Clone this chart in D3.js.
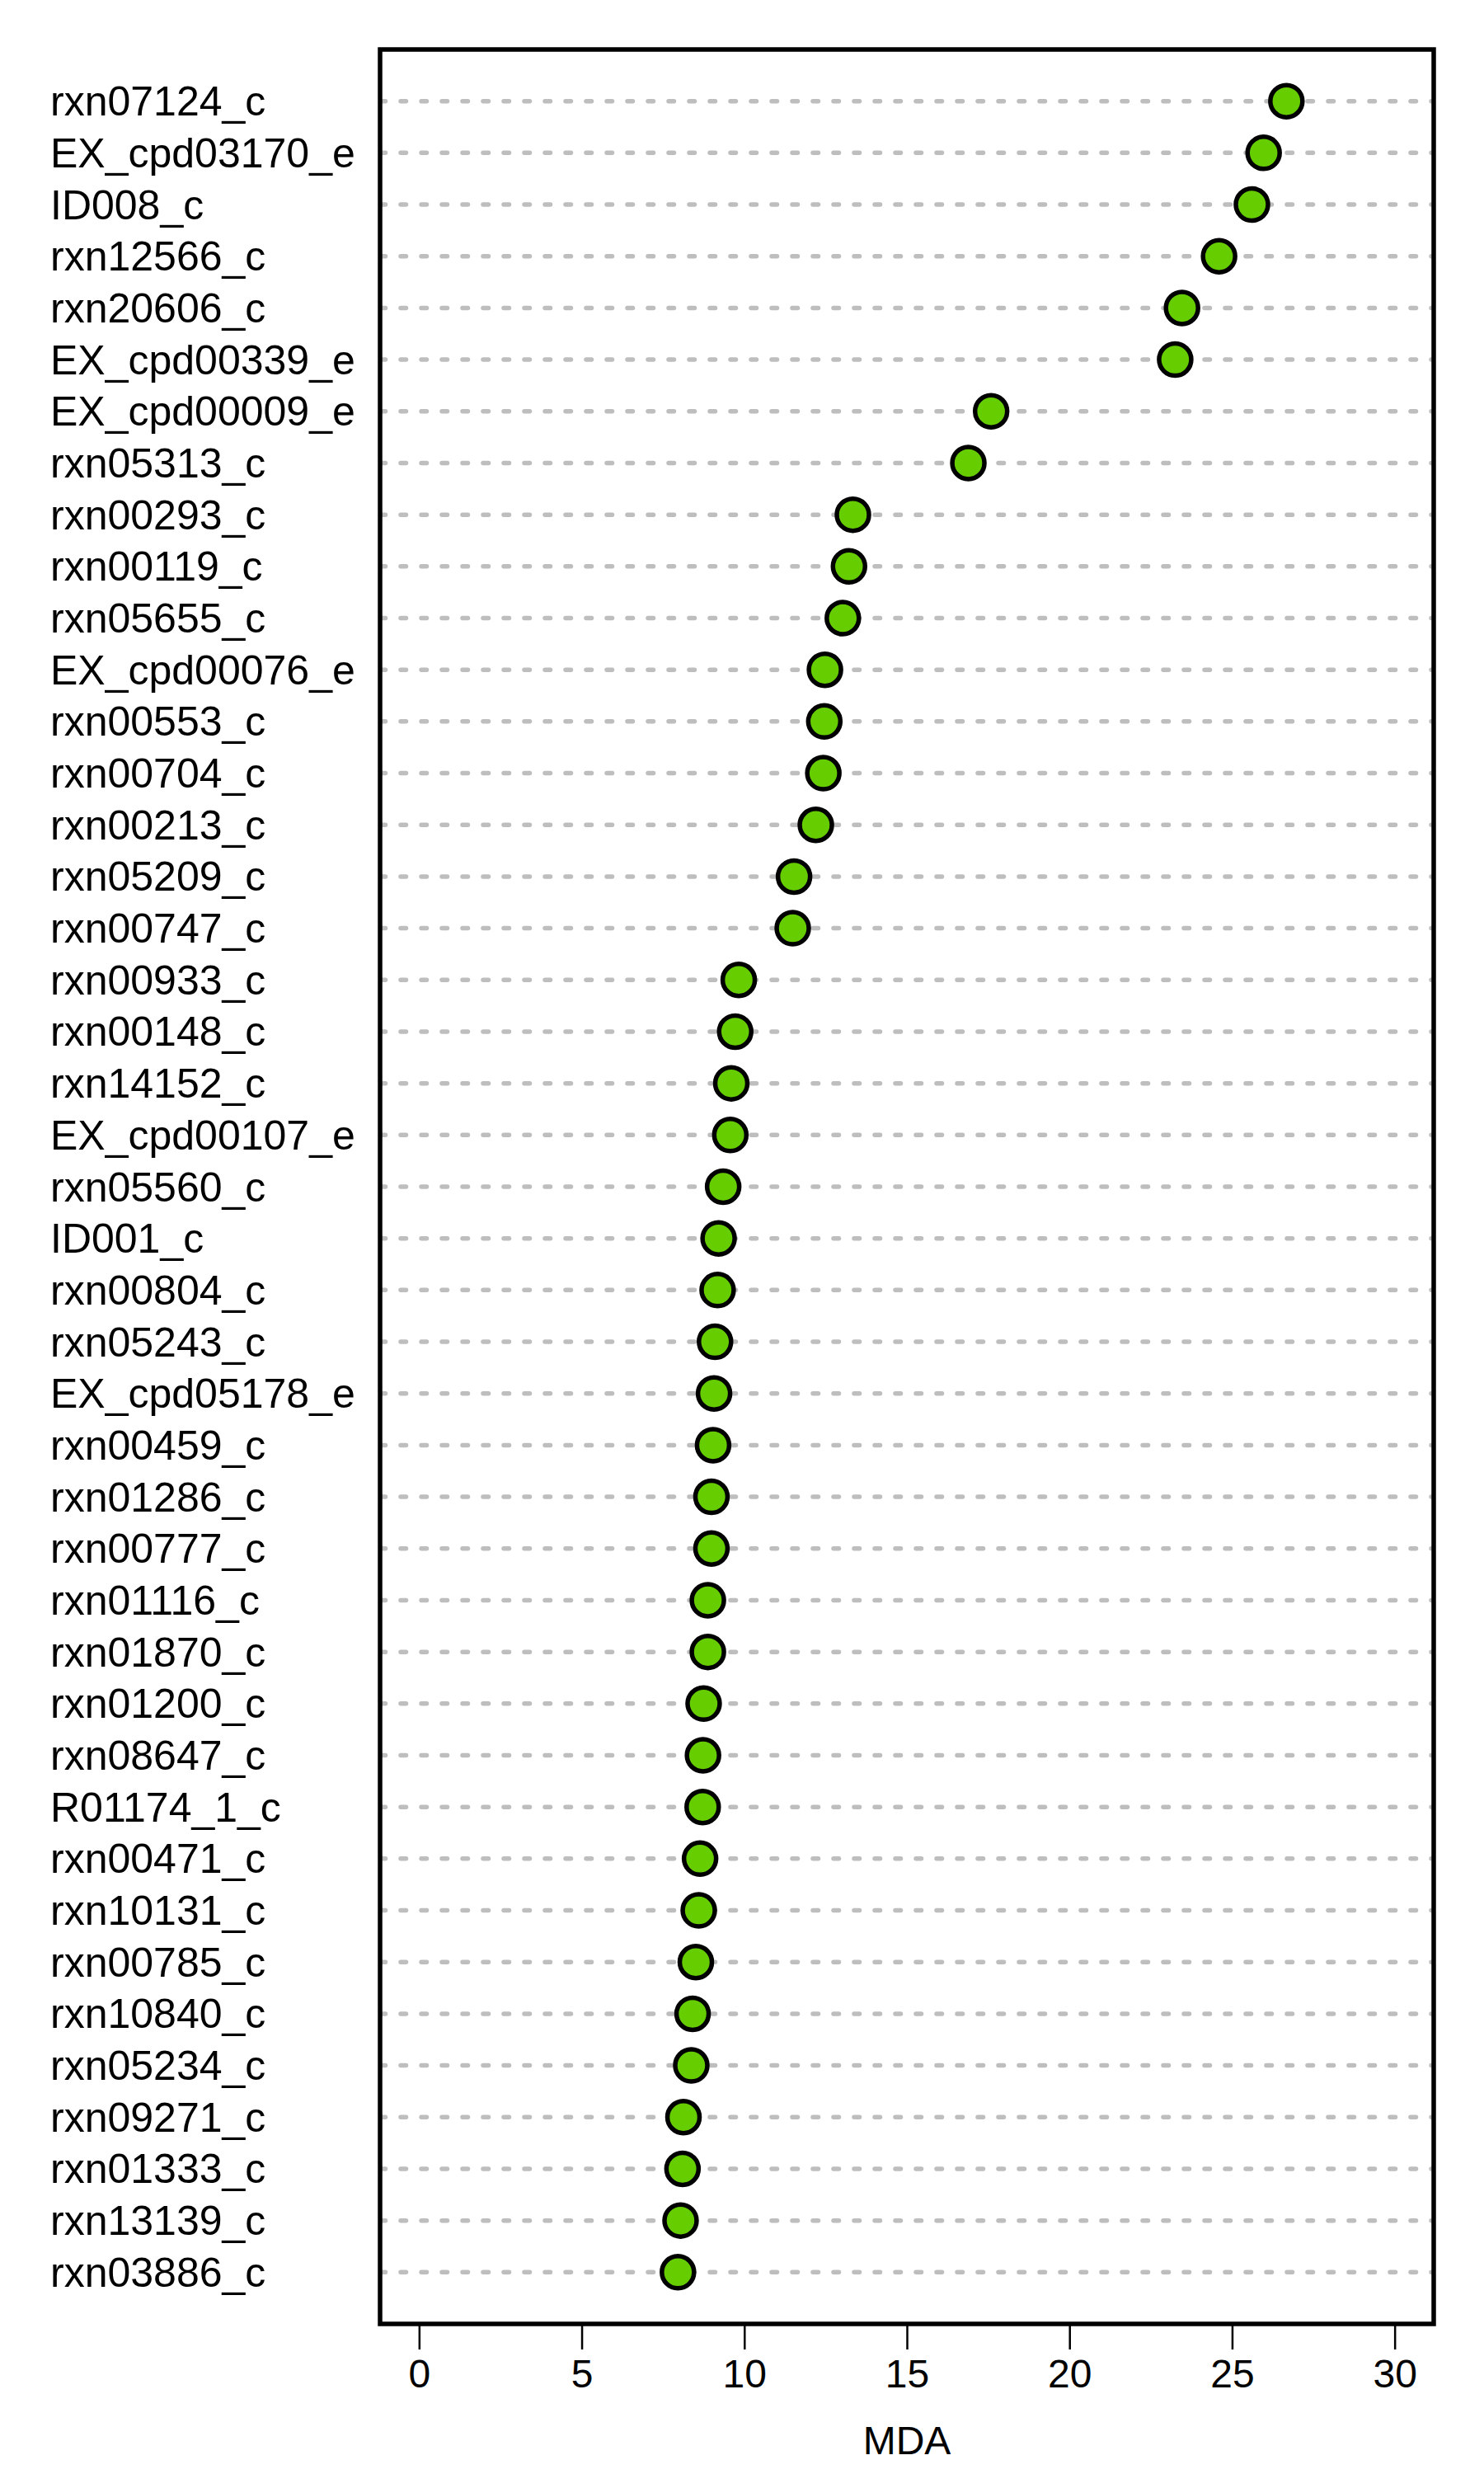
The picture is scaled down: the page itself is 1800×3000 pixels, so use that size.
<!DOCTYPE html>
<html>
<head>
<meta charset="utf-8">
<script src="https://cdn.jsdelivr.net/npm/d3@7"></script>
<style>
  html, body { margin: 0; padding: 0; background: #fff; }
  svg { display: block; }
  text { font-family: "Liberation Sans", Arial, sans-serif; fill: #000; }
</style>
</head>
<body>
<svg id="chart" width="1800" height="3000"></svg>
<script>
// Data (top to bottom)
const labels = [
  "rxn07124_c","EX_cpd03170_e","ID008_c","rxn12566_c","rxn20606_c","EX_cpd00339_e",
  "EX_cpd00009_e","rxn05313_c","rxn00293_c","rxn00119_c","rxn05655_c","EX_cpd00076_e",
  "rxn00553_c","rxn00704_c","rxn00213_c","rxn05209_c","rxn00747_c","rxn00933_c",
  "rxn00148_c","rxn14152_c","EX_cpd00107_e","rxn05560_c","ID001_c","rxn00804_c",
  "rxn05243_c","EX_cpd05178_e","rxn00459_c","rxn01286_c","rxn00777_c","rxn01116_c",
  "rxn01870_c","rxn01200_c","rxn08647_c","R01174_1_c","rxn00471_c","rxn10131_c",
  "rxn00785_c","rxn10840_c","rxn05234_c","rxn09271_c","rxn01333_c","rxn13139_c","rxn03886_c"
];
const mdaValues = [
  26.67, 25.97, 25.61, 24.60, 23.46, 23.25,
  17.59, 16.89, 13.34, 13.22, 13.03, 12.48,
  12.46, 12.43, 12.20, 11.53, 11.49, 9.83,
  9.72, 9.60, 9.57, 9.35, 9.21, 9.18,
  9.10, 9.07, 9.04, 8.99, 8.99, 8.88,
  8.88, 8.75, 8.73, 8.72, 8.64, 8.60,
  8.51, 8.41, 8.37, 8.13, 8.10, 8.04, 7.96
];
const xTicks = [0, 5, 10, 15, 20, 25, 30];
const xLabel = "MDA";

const box = { left: 461, right: 1739, top: 60, bottom: 2818 };
const n = labels.length;

const x = d3.scaleLinear().domain([-1.2, 31.2]).range([box.left, box.right]);
const y = d3.scaleLinear().domain([0, n + 1]).range([box.bottom, box.top]);
const rowY = i => y(n - i);

const svg = d3.select("#chart");

svg.append("defs").append("clipPath").attr("id", "plotclip")
  .append("rect")
  .attr("x", box.left).attr("y", box.top)
  .attr("width", box.right - box.left).attr("height", box.bottom - box.top);

const plot = svg.append("g").attr("clip-path", "url(#plotclip)");

// dotted guide lines
plot.selectAll("line.guide").data(labels).join("line")
  .attr("class", "guide")
  .attr("x1", box.left).attr("x2", box.right)
  .attr("y1", (d, i) => rowY(i)).attr("y2", (d, i) => rowY(i))
  .attr("stroke", "#BEBEBE")
  .attr("stroke-width", 5.5)
  .attr("stroke-linecap", "round")
  .attr("stroke-dasharray", "6.5 18.5");

// points
plot.selectAll("circle.pt").data(mdaValues).join("circle")
  .attr("class", "pt")
  .attr("cx", d => x(d))
  .attr("cy", (d, i) => rowY(i))
  .attr("r", 19.5)
  .attr("fill", "#66CD00")
  .attr("stroke", "#000")
  .attr("stroke-width", 5.5);

// row labels
svg.append("g").selectAll("text").data(labels).join("text")
  .attr("x", 61)
  .attr("y", (d, i) => rowY(i) + 17.5)
  .attr("font-size", 50)
  .attr("text-anchor", "start")
  .text(d => d);

// x axis
const axis = d3.axisBottom(x).tickValues(xTicks).tickSize(31).tickPadding(12)
  .tickFormat(d3.format("d"));
const gx = svg.append("g").attr("transform", `translate(0,${box.bottom})`).call(axis);
gx.select(".domain").remove();
gx.selectAll(".tick line").attr("stroke", "#000").attr("stroke-width", 2.5);
gx.selectAll(".tick text")
  .attr("font-size", 48)
  .attr("font-family", "Liberation Sans, Arial, sans-serif")
  .attr("fill", "#000");

// box
svg.append("rect")
  .attr("x", box.left).attr("y", box.top)
  .attr("width", box.right - box.left).attr("height", box.bottom - box.top)
  .attr("fill", "none").attr("stroke", "#000").attr("stroke-width", 5.5);

// x label
svg.append("text")
  .attr("x", (box.left + box.right) / 2)
  .attr("y", 2976)
  .attr("text-anchor", "middle")
  .attr("font-size", 48)
  .text(xLabel);
</script>
</body>
</html>
